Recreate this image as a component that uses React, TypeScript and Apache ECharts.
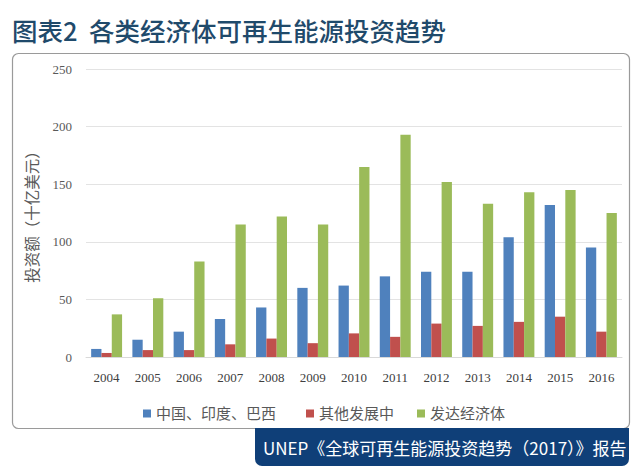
import React, { useEffect, useRef } from "react";
import * as echarts from "echarts";

const years = ["2004", "2005", "2006", "2007", "2008", "2009", "2010", "2011", "2012", "2013", "2014", "2015", "2016"];
const chinaIndiaBrazil = [7, 15, 22, 33, 43, 60, 62, 70, 74, 74, 104, 132, 95];
const otherDeveloping = [3.5, 6, 6, 11, 16, 12, 20.5, 17.5, 29, 27, 30.5, 35, 22];
const developed = [37, 51, 83, 115, 122, 115, 165, 193, 152, 133, 143, 145, 125];
const seriesNames = ["中国、印度、巴西", "其他发展中", "发达经济体"];
const titleText = "图表2  各类经济体可再生能源投资趋势";
const footerText = "UNEP《全球可再生能源投资趋势（2017）》报告";
const yAxisName = "投资额（十亿美元）";

export default function App() {
  const ref = useRef<HTMLDivElement>(null);
  useEffect(() => {
    if (!ref.current) return;
    const chart = echarts.init(ref.current, null, { renderer: "svg" });
    const serif = "'Liberation Serif', 'DejaVu Serif', 'Noto Sans CJK SC', serif";
    const sans = "'Noto Sans CJK SC', 'Noto Sans', sans-serif";
    const legendLefts = [138, 301, 412];
    chart.setOption({
      animation: false,
      backgroundColor: "#ffffff",
      color: ["#4f81bd", "#c0504d", "#9bbb59"],
      graphic: [
        {
          type: "rect",
          shape: { x: 12.5, y: 53.5, width: 617, height: 375, r: 6 },
          style: { fill: "#ffffff", stroke: "#9a9a9a", lineWidth: 1.2 },
          z: -10,
        },
        {
          type: "rect",
          shape: { x: 255, y: 428, width: 374, height: 38, r: [0, 0, 7, 7] },
          style: { fill: "#0f3f78" },
        },
        {
          type: "text",
          x: 263,
          y: 447,
          style: { text: footerText, fill: "#ffffff", font: `17px ${sans}`, verticalAlign: "middle" },
        },
        {
          type: "text",
          x: 12,
          y: 29,
          style: { text: titleText, fill: "#1f4a6b", font: `500 25.5px ${sans}`, verticalAlign: "middle" },
        },
      ],
      legend: seriesNames.map((n, i) => ({
        data: [n],
        top: 401,
        left: legendLefts[i],
        icon: "rect",
        itemWidth: 8,
        itemHeight: 8,
        textStyle: { fontFamily: serif, fontSize: 15, color: "#595959" },
      })),
      grid: { left: 86, right: 18, top: 69, bottom: 117 },
      xAxis: {
        type: "category",
        data: years,
        axisLine: { lineStyle: { color: "#d9d9d9" } },
        axisTick: { show: false },
        axisLabel: { fontFamily: serif, fontSize: 13, color: "#404040", margin: 14 },
      },
      yAxis: {
        type: "value",
        min: 0,
        max: 250,
        interval: 50,
        name: yAxisName,
        nameLocation: "middle",
        nameGap: 46,
        nameRotate: 90,
        nameTextStyle: { fontFamily: serif, fontSize: 15.5, color: "#595959" },
        axisLine: { show: false },
        axisTick: { show: false },
        splitLine: { lineStyle: { color: "#e3e3e3" } },
        axisLabel: { fontFamily: serif, fontSize: 13, color: "#595959", margin: 14 },
      },
      series: [
        { name: seriesNames[0], type: "bar", data: chinaIndiaBrazil, barGap: "0%", barCategoryGap: "25%" },
        { name: seriesNames[1], type: "bar", data: otherDeveloping, barGap: "0%", barCategoryGap: "25%" },
        { name: seriesNames[2], type: "bar", data: developed, barGap: "0%", barCategoryGap: "25%" },
      ],
    });
    return () => chart.dispose();
  }, []);
  return <div ref={ref} style={{ width: 640, height: 474, position: "absolute", left: 0, top: 0 }} />;
}
